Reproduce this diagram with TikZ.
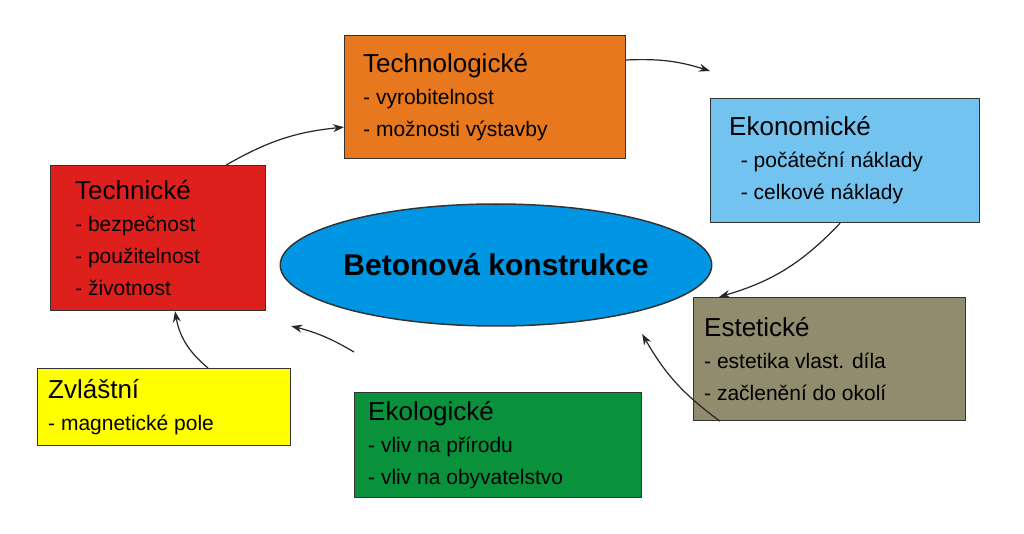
\documentclass[tikz,border=0pt]{standalone}
\usepackage{fontspec}
\setmainfont{Liberation Sans}
\usetikzlibrary{arrows.meta,shapes.geometric}
\definecolor{corange}{RGB}{232,120,30}
\definecolor{cblue}{RGB}{115,195,240}
\definecolor{cred}{RGB}{222,32,28}
\definecolor{colive}{RGB}{145,140,110}
\definecolor{cyellow}{RGB}{255,255,0}
\definecolor{cgreen}{RGB}{10,145,60}
\definecolor{cell}{RGB}{0,150,228}
\tikzset{
 box/.style={draw=black!80, line width=1.2pt, anchor=north west, inner sep=0},
 txt/.style={anchor=west, align=left, inner sep=0, font=\fontsize{21}{32}\selectfont},
 arr/.style={-{Stealth[length=11pt,width=8pt]}, line width=1.2pt, black!85},
}
\newcommand{\ttl}[1]{{\fontsize{26}{32}\selectfont #1}}
\begin{document}
\begin{tikzpicture}[x=1pt,y=-1pt]
\useasboundingbox (0,0) rectangle (1024,534);
\node[box, fill=corange, minimum width=281, minimum height=123] (tg) at (344,35) {};
\node[txt] (tgt) at ([xshift=19]tg.west) {\ttl{Technologické}\\ - vyrobitelnost\\ - možnosti výstavby};
\node[box, fill=cblue, minimum width=269, minimum height=124] (ek) at (710,98) {};
\node[txt] (ekt) at ([xshift=19]ek.west) {\ttl{Ekonomické}\\ \ \ - počáteční náklady\\ \ \ - celkové náklady};
\node[box, fill=cred, minimum width=215, minimum height=145] (te) at (50,165) {};
\node[txt] (tet) at ([xshift=25]te.west) {\ttl{Technické}\\ - bezpečnost\\ - použitelnost\\ - životnost};
\node[box, fill=colive, minimum width=272, minimum height=123] (es) at (693,297) {};
\node[txt] (est) at ([xshift=11]es.west) {\ttl{Estetické}\\ - estetika vlast. díla\\ - začlenění do okolí};
\node[box, fill=cyellow, minimum width=253, minimum height=77] (zv) at (37,368) {};
\node[txt] (zvt) at ([xshift=11]zv.west) {\ttl{Zvláštní}\\ - magnetické pole};
\node[box, fill=cgreen, minimum width=287, minimum height=105] (eo) at (354,392) {};
\node[txt] (eot) at ([xshift=14]eo.west) {\ttl{Ekologické}\\ - vliv na přírodu\\ - vliv na obyvatelstvo};
\node[draw=black!80, line width=1.5pt, fill=cell, ellipse, minimum width=424, minimum height=122, inner sep=0] (el) at (496,265) {\fontsize{30}{36}\selectfont\bfseries Betonová konstrukce};
\draw[arr] ([xshift=-40]te.north east) to[bend left=12] ([yshift=-30]tg.west);
\draw[arr] ([yshift=-25]tg.north east) to[bend left=10] ([yshift=27]ek.north west);
\draw[arr] ([xshift=-5,yshift=0]ek.south) to[bend left=15] ([xshift=26]es.north west);
\draw[arr] ([xshift=27]es.south west) to[bend left=12] ([yshift=58]eo.north east);
\draw[arr] ([yshift=40]eo.north west) to[bend right=8] ([yshift=42]zv.north east);
\draw[arr] ([xshift=171]zv.north west) to[bend left=20] ([xshift=125]te.south west);
\end{tikzpicture}
\end{document}
